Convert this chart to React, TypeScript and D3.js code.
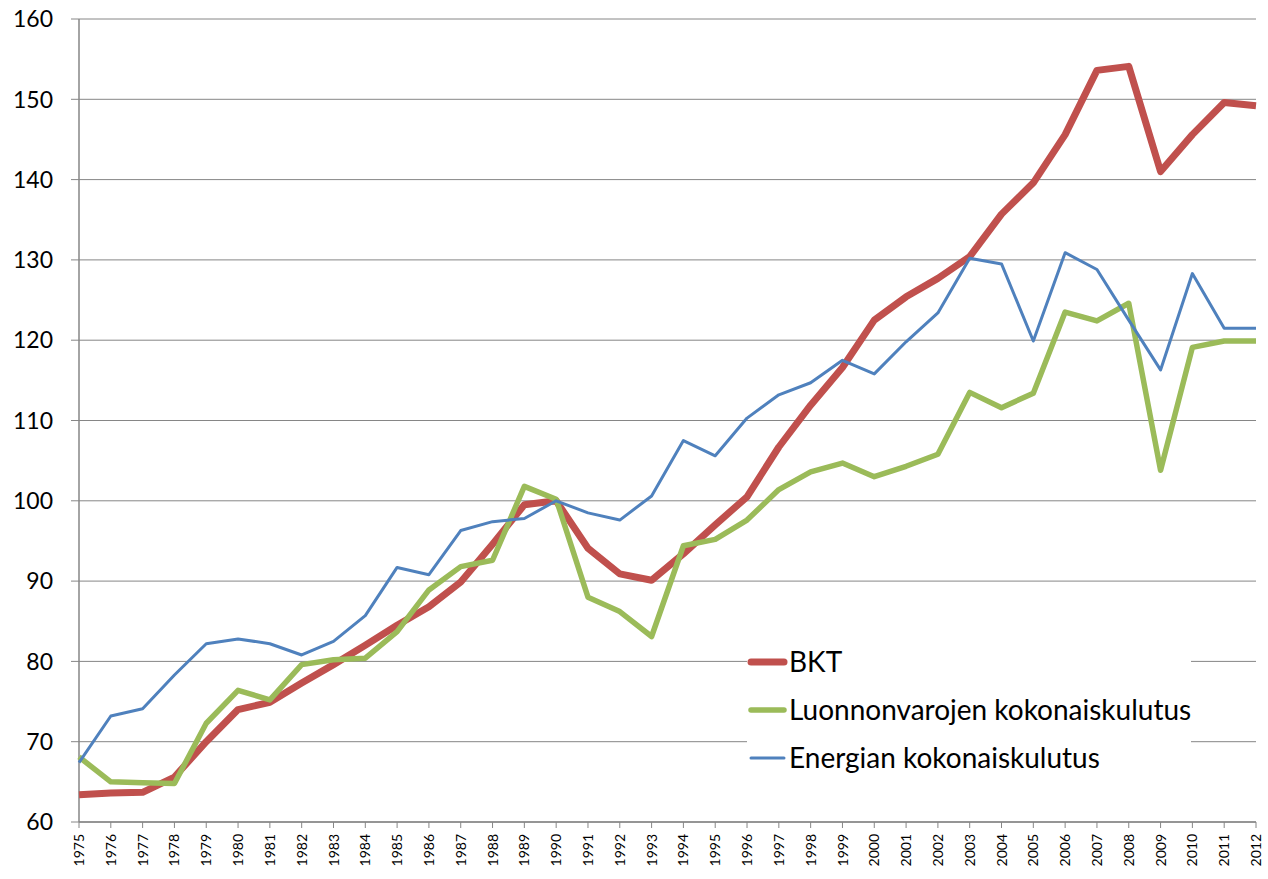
import React from 'react';
import * as d3 from 'd3';

const years = d3.range(1975, 2013).map(String);

const bkt = [63.4, 63.6, 63.7, 65.6, 70.0, 74.0, 74.9, 77.3, 79.6, 82.0,
  84.5, 86.8, 89.9, 94.6, 99.5, 100.0, 94.1, 90.9, 90.1, 93.4,
  97.0, 100.5, 106.7, 111.9, 116.6, 122.5, 125.4, 127.7, 130.4, 135.7,
  139.6, 145.6, 153.6, 154.1, 141.0, 145.6, 149.6, 149.2];

const luonnonvarat = [68.1, 65.0, 64.9, 64.8, 72.3, 76.4, 75.2, 79.6, 80.2, 80.4,
  83.7, 88.9, 91.8, 92.6, 101.8, 100.2, 88.0, 86.2, 83.1, 94.4,
  95.2, 97.6, 101.4, 103.6, 104.7, 103.0, 104.3, 105.8, 113.5, 111.6,
  113.4, 123.5, 122.4, 124.6, 103.8, 119.1, 119.9, 119.9];

const energia = [67.4, 73.2, 74.1, 78.3, 82.2, 82.8, 82.2, 80.8, 82.5, 85.7,
  91.7, 90.8, 96.3, 97.4, 97.8, 100.0, 98.5, 97.6, 100.6, 107.5,
  105.6, 110.3, 113.2, 114.7, 117.5, 115.8, 119.8, 123.4, 130.2, 129.5,
  119.9, 130.9, 128.8, 122.5, 116.3, 128.3, 121.5, 121.5];

const seriesNames = ['BKT', 'Luonnonvarojen kokonaiskulutus', 'Energian kokonaiskulutus'];
const yTicks = [60, 70, 80, 90, 100, 110, 120, 130, 140, 150, 160];

const IndexChart = () => {
    const svgRef = React.useRef(null);
    React.useEffect(() => {
        const width = 1268,
            height = 879;
        const left = 79, right = 1256, top = 19, bottom = 822;

        const svg = d3.select(svgRef.current)
            .attr("width", width)
            .attr("height", height);
        svg.selectAll("*").remove();

        const x = d3.scalePoint().domain(years).range([left, right]);
        const y = d3.scaleLinear().domain([60, 160]).range([bottom, top]);

        const grey = "#868686";
        const font = "Lato, 'Open Sans', sans-serif";

        // gridlines + y ticks
        svg.selectAll("grid")
            .data(yTicks)
            .join("line")
            .attr("x1", left - 8)
            .attr("x2", right)
            .attr("y1", d => y(d))
            .attr("y2", d => y(d))
            .attr("stroke", grey)
            .attr("stroke-width", 1);

        svg.selectAll("ylab")
            .data(yTicks)
            .join("text")
            .attr("x", 53)
            .attr("y", d => y(d))
            .attr("dy", "0.36em")
            .attr("text-anchor", "end")
            .style("font-family", font)
            .style("font-size", "23px")
            .text(d => d);

        // axes
        svg.append("line")
            .attr("x1", left).attr("x2", left)
            .attr("y1", top).attr("y2", bottom)
            .attr("stroke", grey).attr("stroke-width", 1.5);
        svg.append("line")
            .attr("x1", left).attr("x2", right)
            .attr("y1", bottom).attr("y2", bottom)
            .attr("stroke", grey).attr("stroke-width", 1.5);

        svg.selectAll("xtick")
            .data(years)
            .join("line")
            .attr("x1", d => x(d)).attr("x2", d => x(d))
            .attr("y1", bottom).attr("y2", bottom + 6)
            .attr("stroke", grey);

        svg.selectAll("xlab")
            .data(years)
            .join("text")
            .attr("transform", d => `translate(${x(d)},${bottom + 12}) rotate(-90)`)
            .attr("dy", "0.36em")
            .attr("text-anchor", "end")
            .style("font-family", font)
            .style("font-size", "14px")
            .text(d => d);

        const line = d3.line().x((d, i) => x(years[i])).y(d => y(d));
        const series = [
            { vals: bkt, color: "#C0504D", w: 7 },
            { vals: luonnonvarat, color: "#9BBB59", w: 5.5 },
            { vals: energia, color: "#4F81BD", w: 3 },
        ];

        series.forEach(s => {
            svg.append("path")
                .attr("d", line(s.vals))
                .attr("fill", "none")
                .attr("stroke", s.color)
                .attr("stroke-width", s.w)
                .attr("stroke-linejoin", "round");
        });

        // legend
        const lg = svg.append("g");
        lg.append("rect")
            .attr("x", 747).attr("y", 640)
            .attr("width", 444).attr("height", 148)
            .attr("fill", "white");
        series.forEach((s, i) => {
            const ly = 662 + i * 48;
            lg.append("line")
                .attr("x1", 751).attr("x2", 784)
                .attr("y1", ly).attr("y2", ly)
                .attr("stroke", s.color)
                .attr("stroke-width", s.w)
                .attr("stroke-linecap", "round");
            lg.append("text")
                .attr("x", 789).attr("y", ly)
                .attr("dy", "0.36em")
                .style("font-family", font)
                .style("font-size", "28px")
                .text(seriesNames[i]);
        });
    }, []);

    return <svg ref={svgRef} style={{ position: "absolute", left: 0, top: 0 }} />;
};

export default function App() {
    return <IndexChart />;
}
